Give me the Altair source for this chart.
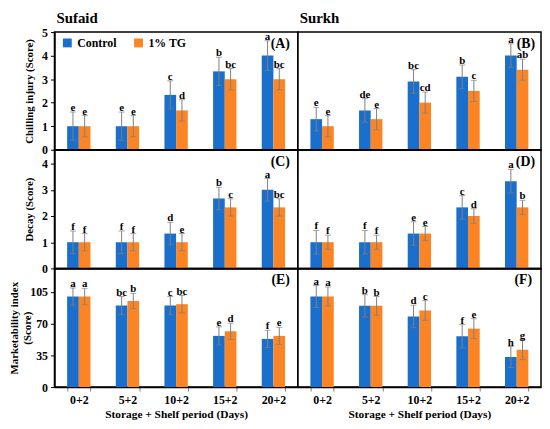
import altair as alt
import pandas as pd

periods = ["0+2", "5+2", "10+2", "15+2", "20+2"]
treatments = ["Control", "1% TG"]

# (A) Sufaid chilling injury
sufaid_ci_control = [1.0, 1.0, 2.33, 3.33, 4.0]
sufaid_ci_tg = [1.0, 1.0, 1.67, 3.0, 3.0]
sufaid_ci_control_err = [0.6, 0.6, 0.6, 0.6, 0.63]
sufaid_ci_tg_err = [0.45, 0.45, 0.45, 0.45, 0.45]
sufaid_ci_control_let = ["e", "e", "c", "b", "a"]
sufaid_ci_tg_let = ["e", "e", "d", "bc", "bc"]

# (B) Surkh chilling injury
surkh_ci_control = [1.3, 1.67, 2.9, 3.1, 4.0]
surkh_ci_tg = [1.0, 1.3, 2.0, 2.5, 3.4]
surkh_ci_control_err = [0.5, 0.5, 0.5, 0.5, 0.5]
surkh_ci_tg_err = [0.45, 0.45, 0.45, 0.45, 0.45]
surkh_ci_control_let = ["e", "de", "bc", "b", "a"]
surkh_ci_tg_let = ["e", "e", "cd", "c", "ab"]

# (C) Sufaid decay
sufaid_dec_control = [1.0, 1.0, 1.33, 2.67, 3.0]
sufaid_dec_tg = [1.0, 1.0, 1.0, 2.33, 2.33]
sufaid_dec_control_err = [0.43, 0.43, 0.43, 0.43, 0.43]
sufaid_dec_tg_err = [0.33, 0.33, 0.33, 0.33, 0.33]
sufaid_dec_control_let = ["f", "f", "d", "b", "a"]
sufaid_dec_tg_let = ["f", "f", "e", "c", "bc"]

# (D) Surkh decay
surkh_dec_control = [1.0, 1.0, 1.33, 2.33, 3.33]
surkh_dec_tg = [1.0, 1.0, 1.33, 2.0, 2.33]
surkh_dec_control_err = [0.45, 0.45, 0.45, 0.45, 0.45]
surkh_dec_tg_err = [0.27, 0.27, 0.27, 0.28, 0.27]
surkh_dec_control_let = ["f", "f", "e", "c", "a"]
surkh_dec_tg_let = ["f", "f", "e", "d", "b"]

# (E) Sufaid marketability index
sufaid_mi_control = [100.0, 90.0, 90.0, 56.5, 53.2]
sufaid_mi_tg = [100.0, 95.0, 91.5, 61.6, 56.5]
sufaid_mi_control_err = [9.5, 10.0, 10.0, 10.0, 9.5]
sufaid_mi_tg_err = [9.0, 8.5, 9.5, 9.0, 9.4]
sufaid_mi_control_let = ["a", "bc", "c", "e", "f"]
sufaid_mi_tg_let = ["a", "b", "bc", "d", "e"]

# (F) Surkh marketability index
surkh_mi_control = [100.0, 89.7, 78.0, 56.1, 33.2]
surkh_mi_tg = [100.0, 89.7, 84.6, 64.5, 41.2]
surkh_mi_control_err = [12.0, 12.3, 12.4, 12.9, 11.6]
surkh_mi_tg_err = [10.5, 10.3, 10.9, 11.0, 10.9]
surkh_mi_control_let = ["a", "b", "d", "f", "h"]
surkh_mi_tg_let = ["a", "b", "c", "e", "g"]

SERIF = "Liberation Serif"
BLUE = "#1b6fcc"
ORANGE = "#fb8424"
GRAY = "#7f7f7f"

W_LEFT, W_RIGHT = 246, 246
H_TOP, H_MID, H_BOT = 119, 120, 120


def make_df(ctrl, tg, ce, te, cl, tl):
    rows = []
    for i, p in enumerate(periods):
        rows.append(dict(period=p, treatment="Control", value=ctrl[i],
                         lo=ctrl[i] - ce[i], hi=ctrl[i] + ce[i], letter=cl[i]))
        rows.append(dict(period=p, treatment="1% TG", value=tg[i],
                         lo=tg[i] - te[i], hi=tg[i] + te[i], letter=tl[i]))
    return pd.DataFrame(rows)


def panel(df, width, height, domain, ticks, ylabel, show_y, show_x,
          label, label_inset=8, title=None, title_offset=4, legend=False,
          title_x=-31):
    if show_x:
        xaxis = alt.Axis(title="Storage + Shelf period (Days)", labelAngle=0,
                         labelFont=SERIF, labelFontSize=12, labelFontWeight="bold",
                         labelColor="black", titleFont=SERIF, titleFontSize=11.5,
                         titleFontWeight="bold", titleColor="black",
                         ticks=True, tickBand="extent", tickColor=GRAY, tickSize=4,
                         domainColor="black", domainWidth=1.5, labelPadding=4,
                         titlePadding=3)
    else:
        xaxis = alt.Axis(title=None, labels=False, ticks=False,
                         domainColor="black", domainWidth=1.5)
    x = alt.X("period:N", sort=periods, axis=xaxis,
              scale=alt.Scale(paddingInner=0.52, paddingOuter=0.26))
    xo = alt.XOffset("treatment:N", sort=treatments)
    yscale = alt.Scale(domain=domain, nice=False, zero=True)
    if show_y:
        yaxis = alt.Axis(title=ylabel, values=ticks, grid=False, labelOverlap=False,
                         labelFont=SERIF, labelFontSize=12, labelFontWeight="bold",
                         labelColor="black", titleFont=SERIF, titleFontSize=11,
                         titleFontWeight="bold", titleColor="black", titleX=title_x,
                         titleBaseline="top", titleLineHeight=13,
                         tickColor="black", tickSize=4, domainColor="black",
                         domainWidth=1.5, labelPadding=3)
    else:
        yaxis = None

    def Y(field):
        return alt.Y(field, scale=yscale, axis=yaxis)

    if legend:
        leg = alt.Legend(orient="none", legendX=7, legendY=5, direction="horizontal",
                         title=None, symbolType="square", symbolSize=80,
                         symbolStrokeWidth=0, labelFont=SERIF, labelFontSize=12,
                         labelFontWeight="bold", labelColor="black",
                         columnPadding=16, labelOffset=4)
    else:
        leg = None
    color = alt.Color("treatment:N", sort=treatments,
                      scale=alt.Scale(domain=treatments, range=[BLUE, ORANGE]),
                      legend=leg)
    base = alt.Chart(df)
    bars = base.mark_bar().encode(x=x, xOffset=xo, y=Y("value:Q"), color=color)
    rule = base.mark_rule(color=GRAY, strokeWidth=1).encode(
        x=x, xOffset=xo, y=Y("lo:Q"), y2="hi:Q")
    cap_lo = base.mark_tick(color=GRAY, thickness=1, size=6).encode(
        x=x, xOffset=xo, y=Y("lo:Q"))
    cap_hi = base.mark_tick(color=GRAY, thickness=1, size=6).encode(
        x=x, xOffset=xo, y=Y("hi:Q"))
    letters = base.mark_text(baseline="bottom", dy=1, font=SERIF, fontSize=11,
                             fontWeight="bold", color="black").encode(
        x=x, xOffset=xo, y=Y("hi:Q"), text="letter:N")
    lab = alt.Chart(pd.DataFrame({"lab": [label]})).mark_text(
        align="right", baseline="middle", font=SERIF, fontSize=14,
        fontWeight="bold", color="black").encode(
        x=alt.value(width - label_inset), y=alt.value(12), text="lab:N")
    props = dict(width=width, height=height)
    if title:
        props["title"] = alt.TitleParams(text=title, anchor="start", frame="group",
                                         font=SERIF, fontSize=15, fontWeight="bold",
                                         color="black", offset=title_offset, dx=2)
    return alt.layer(bars, rule, cap_lo, cap_hi, letters, lab).properties(**props)


pA = panel(make_df(sufaid_ci_control, sufaid_ci_tg, sufaid_ci_control_err,
                   sufaid_ci_tg_err, sufaid_ci_control_let, sufaid_ci_tg_let),
           W_LEFT, H_TOP, [0, 5], [0, 1, 2, 3, 4, 5], "Chilling injury (Score)",
           True, False, "(A)", title="Sufaid", title_offset=0, legend=True)
pB = panel(make_df(surkh_ci_control, surkh_ci_tg, surkh_ci_control_err,
                   surkh_ci_tg_err, surkh_ci_control_let, surkh_ci_tg_let),
           W_RIGHT, H_TOP, [0, 5], [0, 1, 2, 3, 4, 5], "", False, False, "(B)",
           label_inset=6, title="Surkh", title_offset=6)
pC = panel(make_df(sufaid_dec_control, sufaid_dec_tg, sufaid_dec_control_err,
                   sufaid_dec_tg_err, sufaid_dec_control_let, sufaid_dec_tg_let),
           W_LEFT, H_MID, [0, 4.53], [0, 1, 2, 3, 4], "Decay (Score)",
           True, False, "(C)")
pD = panel(make_df(surkh_dec_control, surkh_dec_tg, surkh_dec_control_err,
                   surkh_dec_tg_err, surkh_dec_control_let, surkh_dec_tg_let),
           W_RIGHT, H_MID, [0, 4.53], [0, 1, 2, 3, 4], "", False, False, "(D)",
           label_inset=6)
pE = panel(make_df(sufaid_mi_control, sufaid_mi_tg, sufaid_mi_control_err,
                   sufaid_mi_tg_err, sufaid_mi_control_let, sufaid_mi_tg_let),
           W_LEFT, H_BOT, [0, 131], [0, 35, 70, 105],
           ["Marketability index", "(Score)"], True, True, "(E)", title_x=-46)
pF = panel(make_df(surkh_mi_control, surkh_mi_tg, surkh_mi_control_err,
                   surkh_mi_tg_err, surkh_mi_control_let, surkh_mi_tg_let),
           W_RIGHT, H_BOT, [0, 131], [0, 35, 70, 105], "", False, True, "(F)",
           label_inset=9)

chart = alt.concat(pA, pB, pC, pD, pE, pF, columns=2, spacing=0,
                   bounds="flush").resolve_scale(
    color="independent"
).properties(
    padding={"left": 0, "top": 0, "right": 0, "bottom": 0},
    background="white",
).configure_view(stroke="black", strokeWidth=1.5)

chart.save("out.html", embed_options={"renderer": "svg", "actions": False})
